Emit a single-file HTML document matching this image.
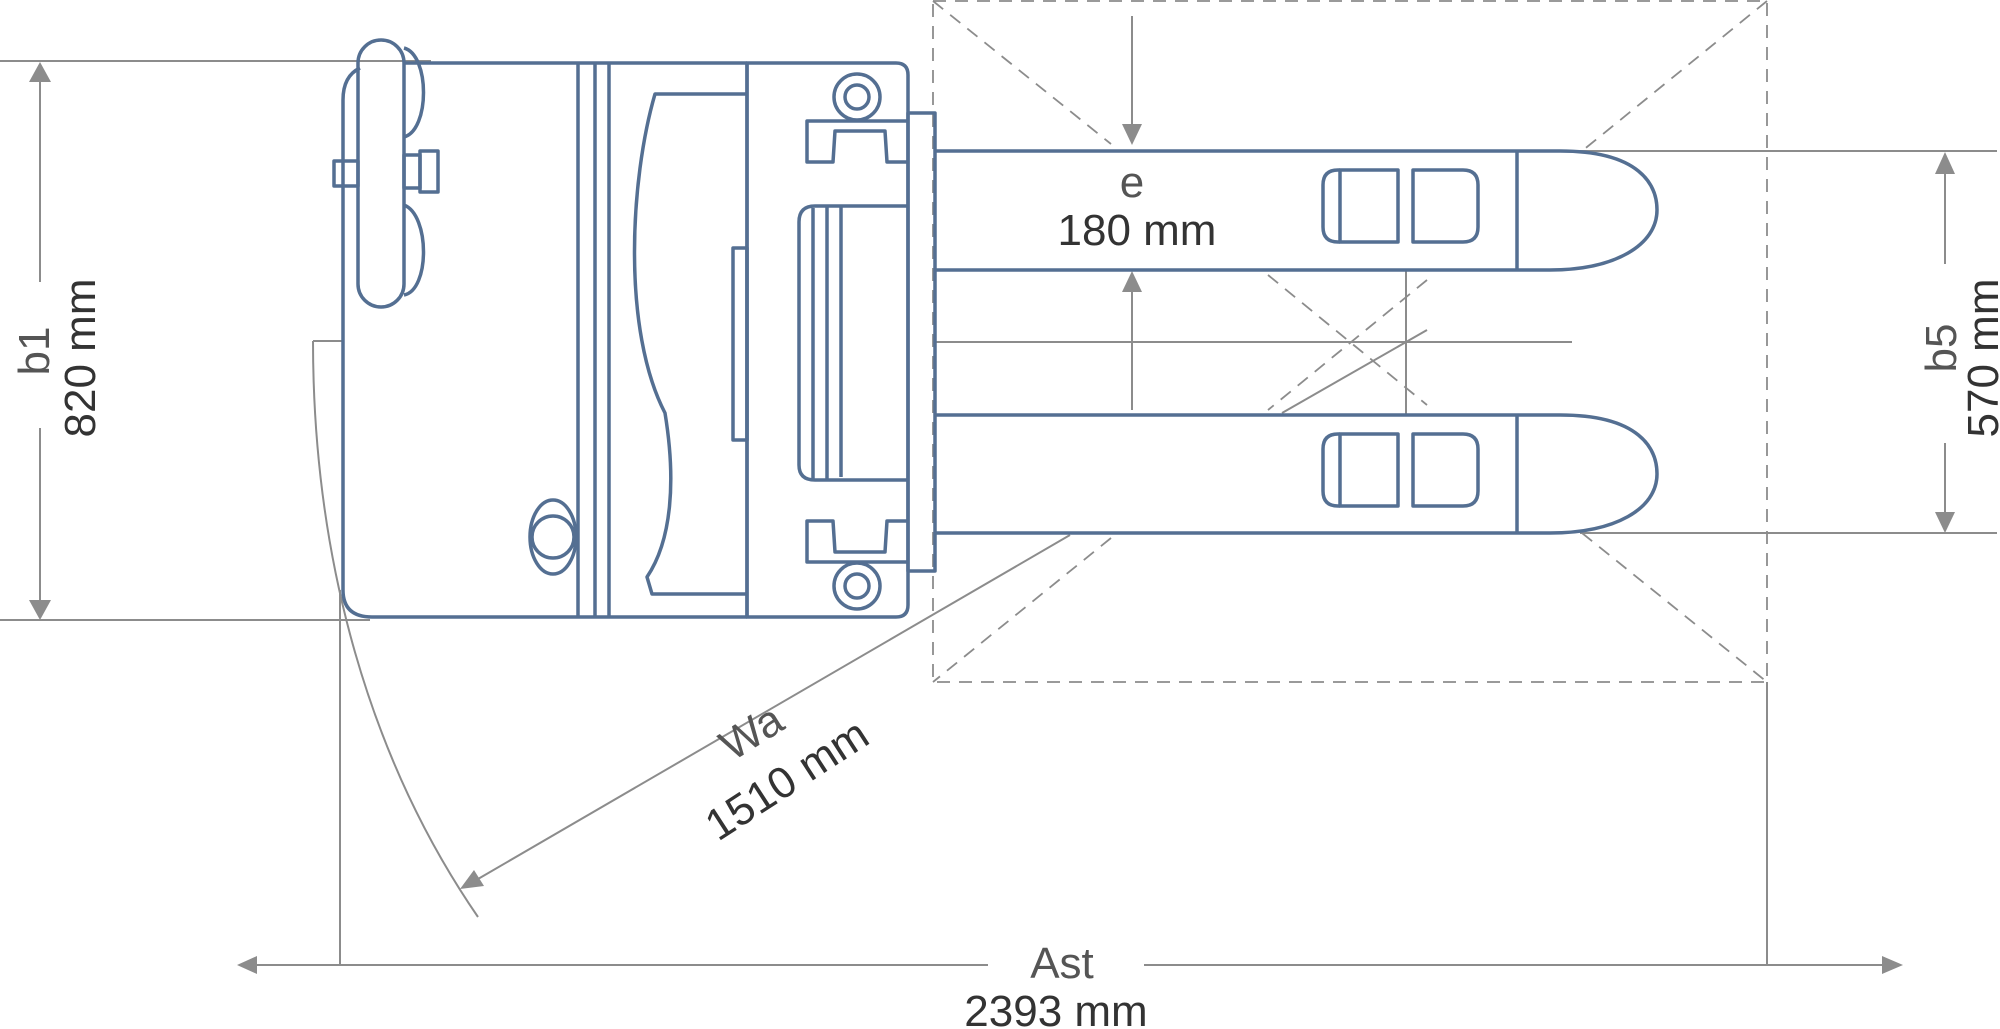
<!DOCTYPE html>
<html><head><meta charset="utf-8"><style>
html,body{margin:0;padding:0;background:#fff;}
svg{display:block;}
text{font-family:"Liberation Sans",sans-serif;}
</style></head><body>
<svg width="2000" height="1029" viewBox="0 0 2000 1029" xmlns="http://www.w3.org/2000/svg">
<g fill="none" stroke="#8c8c8c" stroke-width="2">
  <line x1="0" y1="61" x2="431" y2="61"/>
  <line x1="0" y1="620" x2="370" y2="620"/>
  <line x1="40" y1="80" x2="40" y2="282"/>
  <line x1="40" y1="428" x2="40" y2="602"/>
  <line x1="313" y1="341" x2="343" y2="341"/>
  <path d="M313,341 C313,560 370,760 478,917"/>
  <line x1="340" y1="590" x2="340" y2="965"/>
  <line x1="255" y1="965" x2="988" y2="965"/>
  <line x1="1144" y1="965" x2="1884" y2="965"/>
  <line x1="1767" y1="682" x2="1767" y2="965"/>
  <line x1="1070" y1="535" x2="478" y2="879"/>
  <line x1="1282" y1="413" x2="1427" y2="330"/>
  <line x1="936" y1="342" x2="1572" y2="342"/>
  <line x1="1406" y1="270" x2="1406" y2="415"/>
  <line x1="1132" y1="16" x2="1132" y2="125"/>
  <line x1="1132" y1="290" x2="1132" y2="410"/>
  <line x1="1580" y1="151" x2="1997" y2="151"/>
  <line x1="1580" y1="533" x2="1997" y2="533"/>
  <line x1="1945" y1="174" x2="1945" y2="264"/>
  <line x1="1945" y1="443" x2="1945" y2="512"/>
</g>
<g fill="none" stroke="#8c8c8c" stroke-width="1.8" stroke-dasharray="13 9">
  <rect x="933" y="1" width="834" height="681"/>
  <line x1="933" y1="1" x2="1111" y2="144"/>
  <line x1="1767" y1="1" x2="1582" y2="151"/>
  <line x1="1111" y1="538" x2="933" y2="682"/>
  <line x1="1582" y1="533" x2="1767" y2="682"/>
  <line x1="1268" y1="275" x2="1427" y2="405"/>
  <line x1="1427" y1="280" x2="1268" y2="410"/>
</g>
<g fill="#8c8c8c" stroke="none">
  <polygon points="40,62 29,82 51,82"/>
  <polygon points="40,620 29,600 51,600"/>
  <polygon points="237,965 257,956 257,974"/>
  <polygon points="1903,965 1882,956 1882,974"/>
  <polygon points="1132,145 1122,124 1142,124"/>
  <polygon points="1132,271 1122,292 1142,292"/>
  <polygon points="1945,152 1935,174 1955,174"/>
  <polygon points="1945,533 1935,512 1955,512"/>
  <polygon points="460,889 474,870 484,886"/>
</g>
<g fill="none" stroke="#546f92" stroke-width="3.5" stroke-linejoin="round">
  <path d="M360,68 Q343,76 343,100 L343,590 Q343,617 372,617 L747,617"/>
  <line x1="404" y1="63" x2="747" y2="63"/>
  <rect x="358" y="40" width="46" height="267" rx="23"/>
  <path d="M404,48 C430,55 430,130 404,137"/>
  <path d="M404,205 C430,215 430,290 404,295"/>
  <rect x="334" y="161" width="24" height="25"/>
  <rect x="404" y="155" width="16" height="33"/>
  <rect x="420" y="151" width="18" height="41"/>
  <line x1="578" y1="63" x2="578" y2="617"/>
  <line x1="595" y1="63" x2="595" y2="617"/>
  <line x1="609" y1="63" x2="609" y2="617"/>
  <ellipse cx="553" cy="537" rx="23" ry="37"/>
  <circle cx="553" cy="537" r="21"/>
  <path d="M747,94 L655,94 C630,180 622,330 665,413 C676,480 672,540 647,577 L652,594 L747,594"/>
  <rect x="733" y="248" width="14" height="192"/>
  <path d="M747,63 L896,63 Q908,63 908,75 L908,605 Q908,617 896,617 L747,617 Z"/>
  <line x1="747" y1="63" x2="747" y2="617"/>
  <circle cx="857" cy="97" r="23"/><circle cx="857" cy="97" r="12"/>
  <circle cx="857" cy="586" r="23"/><circle cx="857" cy="586" r="12"/>
  <path d="M908,121 L807,121 L807,162 L833,162 L835,131 L885,131 L887,162 L908,162"/>
  <path d="M908,562 L807,562 L807,521 L833,521 L835,552 L885,552 L887,521 L908,521"/>
  <path d="M908,206 L815,206 Q799,206 799,222 L799,465 Q799,480 815,480 L908,480"/>
  <line x1="813" y1="208" x2="813" y2="479"/>
  <line x1="827" y1="206" x2="827" y2="480"/>
  <line x1="841" y1="206" x2="841" y2="477"/>
  <rect x="908" y="113" width="27" height="458"/>
  <path d="M935,151 L1560,151 C1640,151 1657,185 1657,210 C1657,245 1615,270 1550,270 L935,270"/>
  <line x1="1517" y1="151" x2="1517" y2="270"/>
  <path d="M935,415 L1560,415 C1640,415 1657,449 1657,474 C1657,509 1615,533 1550,533 L935,533"/>
  <line x1="1517" y1="415" x2="1517" y2="533"/>
  <path d="M1340,170 L1338,170 Q1323,170 1323,185 L1323,227 Q1323,242 1338,242 L1340,242"/>
  <rect x="1340" y="170" width="58" height="72"/>
  <path d="M1413,170 L1463,170 Q1478,170 1478,185 L1478,227 Q1478,242 1463,242 L1413,242 Z"/>
  <path d="M1340,434 L1338,434 Q1323,434 1323,449 L1323,491 Q1323,506 1338,506 L1340,506"/>
  <rect x="1340" y="434" width="58" height="72"/>
  <path d="M1413,434 L1463,434 Q1478,434 1478,449 L1478,491 Q1478,506 1463,506 L1413,506 Z"/>
</g>
<g font-size="44">
  <text transform="translate(49,351) rotate(-90)" text-anchor="middle" fill="#555">b1</text>
  <text transform="translate(95,358) rotate(-90)" text-anchor="middle" fill="#333">820 mm</text>
  <text transform="translate(1956,348) rotate(-90)" text-anchor="middle" fill="#555">b5</text>
  <text transform="translate(1998,358) rotate(-90)" text-anchor="middle" fill="#333">570 mm</text>
  <text x="1132" y="197" text-anchor="middle" fill="#555">e</text>
  <text x="1137" y="245" text-anchor="middle" fill="#333">180 mm</text>
  <text x="1062" y="978" text-anchor="middle" fill="#555">Ast</text>
  <text x="1056" y="1026" text-anchor="middle" fill="#333">2393 mm</text>
  <text transform="translate(732,762) rotate(-32)" fill="#555">Wa</text>
  <text transform="translate(718,842) rotate(-33)" fill="#333">1510 mm</text>
</g>
</svg>
</body></html>
